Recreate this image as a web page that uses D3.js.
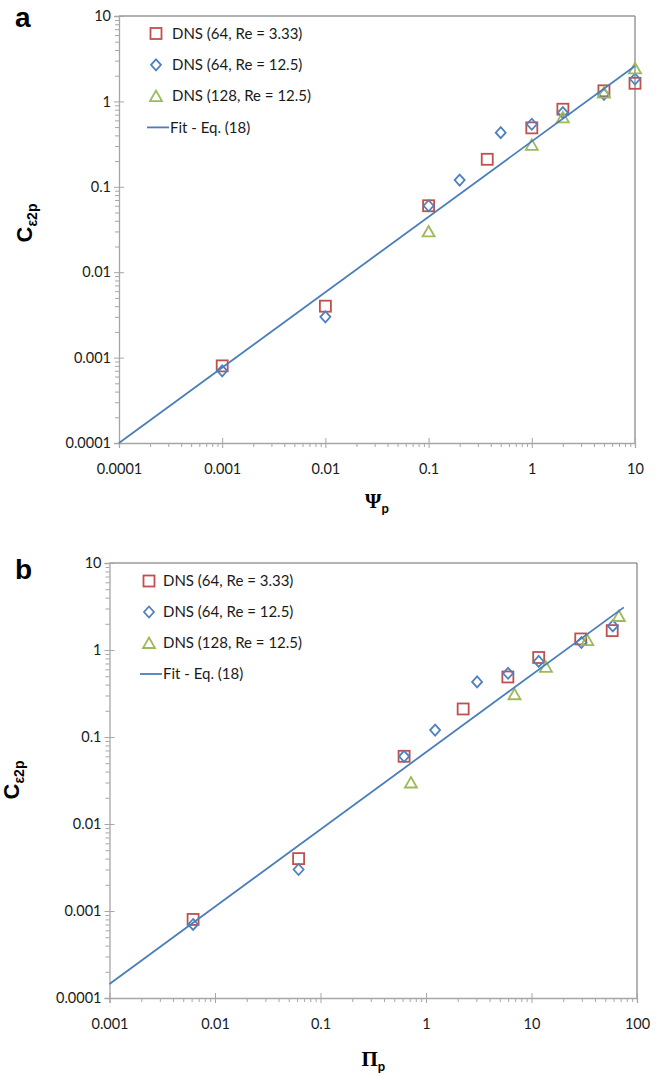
<!DOCTYPE html>
<html><head><meta charset="utf-8">
<script src="https://cdn.jsdelivr.net/npm/d3@7"></script>
<style>
html,body{margin:0;padding:0;background:#fff;}
svg{display:block;}
</style></head>
<body>
<svg id="chart" width="665" height="1075"></svg>
<script>
// ---------- data ----------
const seriesNames = ["DNS (64, Re = 3.33)", "DNS (64, Re = 12.5)", "DNS (128, Re = 12.5)", "Fit - Eq. (18)"];

// Panel a : x = Psi_p
const aSquareX = [0.001, 0.01, 0.1, 0.37, 1, 2, 5, 10];
const aSquareY = [0.0008, 0.004, 0.06, 0.21, 0.49, 0.81, 1.33, 1.63];
const aDiamondX = [0.001, 0.01, 0.1, 0.2, 0.5, 1, 2, 5, 10];
const aDiamondY = [0.0007, 0.003, 0.06, 0.12, 0.43, 0.54, 0.74, 1.21, 1.83];
const aTriangleX = [0.1, 1, 2, 5, 10];
const aTriangleY = [0.03, 0.31, 0.65, 1.27, 2.44];
const aFitX = [0.0001, 10];
const aFitY = [0.0001, 2.6];

// Panel b : x = Pi_p
const bSquareX = [0.0062, 0.062, 0.62, 2.25, 5.97, 11.7, 29.3, 58.2];
const bSquareY = [0.0008, 0.004, 0.06, 0.21, 0.49, 0.82, 1.34, 1.67];
const bDiamondX = [0.0062, 0.062, 0.62, 1.22, 3.05, 6.0, 11.7, 29.7, 59];
const bDiamondY = [0.0007, 0.003, 0.06, 0.12, 0.43, 0.54, 0.74, 1.22, 1.89];
const bTriangleX = [0.72, 6.9, 13.7, 33.8, 67.3];
const bTriangleY = [0.03, 0.31, 0.64, 1.30, 2.46];
const bFitX = [0.001, 75];
const bFitY = [0.000145, 3.09];

const aXTicks = [0.0001, 0.001, 0.01, 0.1, 1, 10];
const aXTickLabels = ["0.0001", "0.001", "0.01", "0.1", "1", "10"];
const bXTicks = [0.001, 0.01, 0.1, 1, 10, 100];
const bXTickLabels = ["0.001", "0.01", "0.1", "1", "10", "100"];
const yTicks = [0.0001, 0.001, 0.01, 0.1, 1, 10];
const yTickLabels = ["0.0001", "0.001", "0.01", "0.1", "1", "10"];

// ---------- drawing ----------
const svg = d3.select("#chart");
const RED = "#c0504d", BLUE = "#4f81bd", GREEN = "#9bbb59", LINE = "#4a7ebb";
const AXIS = "#a6a6a6";
const FONT = "Lato, 'Open Sans', sans-serif";

function minorTicks(domain) {
  const out = [];
  const lo = Math.round(Math.log10(domain[0])), hi = Math.round(Math.log10(domain[1]));
  for (let e = lo; e < hi; e++) for (let m = 2; m <= 9; m++) out.push(m * Math.pow(10, e));
  return out;
}

function panel(cfg) {
  const x = d3.scaleLog().domain(cfg.xDomain).range([cfg.left, cfg.right]);
  const y = d3.scaleLog().domain([1e-4, 10]).range([cfg.bottom, cfg.top]);
  const g = svg.append("g");

  // frame top and right
  g.append("line").attr("x1", cfg.left).attr("x2", cfg.right).attr("y1", cfg.top).attr("y2", cfg.top)
    .attr("stroke", "#9a9a9a").attr("stroke-width", 1.3);
  g.append("line").attr("x1", cfg.right).attr("x2", cfg.right).attr("y1", cfg.top).attr("y2", cfg.bottom)
    .attr("stroke", "#8a8a8a").attr("stroke-width", 1.3);

  // x axis: labels + outer major ticks
  const xa = g.append("g").attr("transform", `translate(0,${cfg.bottom})`)
    .call(d3.axisBottom(x).tickValues(cfg.xTicks).tickFormat((d, i) => cfg.xLabels[i]).tickSize(5).tickPadding(16));
  const xin = g.append("g").attr("transform", `translate(0,${cfg.bottom})`)
    .call(d3.axisBottom(x).tickValues(cfg.xTicks).tickFormat("").tickSize(-5));
  const xmin = g.append("g").attr("transform", `translate(0,${cfg.bottom})`)
    .call(d3.axisBottom(x).tickValues(minorTicks(cfg.xDomain)).tickFormat("").tickSize(4));

  const ya = g.append("g").attr("transform", `translate(${cfg.left},0)`)
    .call(d3.axisLeft(y).tickValues(yTicks).tickFormat((d, i) => yTickLabels[i]).tickSize(5).tickPadding(3));
  const yin = g.append("g").attr("transform", `translate(${cfg.left},0)`)
    .call(d3.axisLeft(y).tickValues(yTicks).tickFormat("").tickSize(-5));
  const ymin = g.append("g").attr("transform", `translate(${cfg.left},0)`)
    .call(d3.axisLeft(y).tickValues(minorTicks([1e-4, 10])).tickFormat("").tickSize(4));

  [xa, xin, xmin, ya, yin, ymin].forEach(a => {
    a.selectAll("path.domain").attr("stroke", AXIS).attr("stroke-width", 1.3);
    a.selectAll(".tick line").attr("stroke", AXIS).attr("stroke-width", 1);
    a.selectAll("text").attr("fill", "#1a1a1a").style("font-family", FONT).style("font-size", "14.5px");
  });
  [xin, xmin, yin, ymin].forEach(a => a.selectAll("path.domain").remove());

  // fit line
  const fitData = cfg.fitX.map((v, i) => [v, cfg.fitY[i]]);
  // markers
  const sq = cfg.sqX.map((v, i) => [v, cfg.sqY[i]]);
  const di = cfg.diX.map((v, i) => [v, cfg.diY[i]]);
  const tr = cfg.trX.map((v, i) => [v, cfg.trY[i]]);

  g.selectAll("rect.sq").data(sq).enter().append("rect")
    .attr("x", d => x(d[0]) - 5.5).attr("y", d => y(d[1]) - 5.5).attr("width", 11).attr("height", 11)
    .attr("fill", "none").attr("stroke", RED).attr("stroke-width", 1.8);
  const diamond = "M0,-5.5L5,0L0,5.5L-5,0Z";
  g.selectAll("path.di").data(di).enter().append("path")
    .attr("d", diamond).attr("transform", d => `translate(${x(d[0])},${y(d[1])})`)
    .attr("fill", "none").attr("stroke", BLUE).attr("stroke-width", 1.8);
  const tri = "M0,-5.5L6,5L-6,5Z";
  g.selectAll("path.tr").data(tr).enter().append("path")
    .attr("d", tri).attr("transform", d => `translate(${x(d[0])},${y(d[1])})`)
    .attr("fill", "none").attr("stroke", GREEN).attr("stroke-width", 1.8);

  g.append("path").datum(fitData)
    .attr("d", d3.line().x(d => x(d[0])).y(d => y(d[1])))
    .attr("fill", "none").attr("stroke", LINE).attr("stroke-width", 1.8);

  // legend
  const lg = g.append("g");
  seriesNames.forEach((name, i) => {
    const cy = cfg.legY + i * cfg.legDy;
    const sx = cfg.legSymX;
    if (i === 0) lg.append("rect").attr("x", sx - 5.5).attr("y", cy - 5.5).attr("width", 11).attr("height", 11)
      .attr("fill", "none").attr("stroke", RED).attr("stroke-width", 1.8);
    if (i === 1) lg.append("path").attr("d", diamond).attr("transform", `translate(${sx},${cy})`)
      .attr("fill", "none").attr("stroke", BLUE).attr("stroke-width", 1.8);
    if (i === 2) lg.append("path").attr("d", tri).attr("transform", `translate(${sx},${cy})`)
      .attr("fill", "none").attr("stroke", GREEN).attr("stroke-width", 1.8);
    if (i === 3) lg.append("line").attr("x1", sx - 9).attr("x2", sx + 13).attr("y1", cy).attr("y2", cy)
      .attr("stroke", LINE).attr("stroke-width", 1.8);
    lg.append("text").attr("x", i === 3 ? sx + 14 : cfg.legTextX).attr("y", cy).attr("dy", "0.35em")
      .style("font-family", FONT).style("font-size", "15px").attr("fill", "#1a1a1a").text(name);
  });

  // panel letter
  g.append("text").attr("x", cfg.letterX).attr("y", cfg.letterY).text(cfg.letter)
    .style("font-family", "'Liberation Sans', Arial, sans-serif").style("font-weight", "bold").style("font-size", "28px");

  // y title
  const yt = g.append("text").attr("transform", `translate(${cfg.yTitleX},${cfg.yTitleY}) rotate(-90)`)
    .attr("text-anchor", "middle").style("font-family", "'Liberation Sans', Arial, sans-serif").style("font-weight", "bold");
  yt.append("tspan").style("font-size", "22px").text("C");
  yt.append("tspan").style("font-size", "14px").attr("dy", "5").text("ε2p");

  // x title
  const xt = g.append("text").attr("x", (cfg.left + cfg.right) / 2).attr("y", cfg.xTitleY)
    .attr("text-anchor", "middle").style("font-weight", "bold");
  xt.append("tspan").style("font-family", "'Liberation Serif', 'DejaVu Serif', serif").style("font-size", "21px").text(cfg.xSymbol);
  xt.append("tspan").style("font-family", FONT).style("font-size", "13px").attr("dy", "5").text("p");
}

panel({
  left: 119, right: 635, top: 16, bottom: 443, xDomain: [1e-4, 10],
  xTicks: aXTicks, xLabels: aXTickLabels,
  sqX: aSquareX, sqY: aSquareY, diX: aDiamondX, diY: aDiamondY, trX: aTriangleX, trY: aTriangleY,
  fitX: aFitX, fitY: aFitY,
  legY: 33.5, legDy: 31.3, legSymX: 156, legTextX: 172,
  letter: "a", letterX: 15, letterY: 27,
  yTitleX: 32, yTitleY: 223, xTitleY: 508, xSymbol: "Ψ"
});
panel({
  left: 109.5, right: 637, top: 563, bottom: 998, xDomain: [1e-3, 100],
  xTicks: bXTicks, xLabels: bXTickLabels,
  sqX: bSquareX, sqY: bSquareY, diX: bDiamondX, diY: bDiamondY, trX: bTriangleX, trY: bTriangleY,
  fitX: bFitX, fitY: bFitY,
  legY: 581, legDy: 31, legSymX: 149, legTextX: 163,
  letter: "b", letterX: 15, letterY: 579,
  yTitleX: 19, yTitleY: 780, xTitleY: 1066, xSymbol: "Π"
});
</script>
</body></html>
